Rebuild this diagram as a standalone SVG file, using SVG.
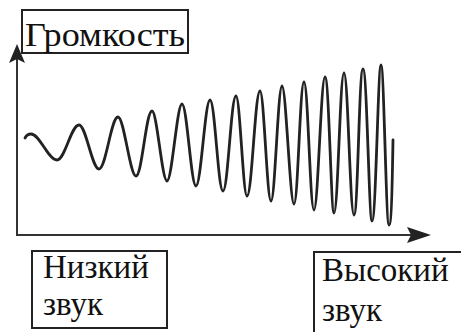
<svg xmlns="http://www.w3.org/2000/svg" width="461" height="332" viewBox="0 0 461 332">
<style>
.lbl{font-family:"Liberation Serif","Times New Roman","DejaVu Serif",serif;font-size:33px;fill:#111}
.box{fill:#fff;stroke:#222;stroke-width:2}
.axis{stroke:#333;stroke-width:2;fill:none}
.wave{stroke:#222;stroke-width:2.8;fill:none;stroke-linejoin:round;stroke-linecap:round}
</style>
<rect width="461" height="332" fill="#fff"/>
<g id="connectors">
<line class="axis" x1="17" y1="236" x2="17" y2="58"/>
<path d="M17,44 L25,63 L17,59 L9,63 Z" fill="#222"/>
<line class="axis" x1="17" y1="235" x2="414" y2="235"/>
<path d="M431,235 L407,227 L411,235 L407,243 Z" fill="#222"/>
</g>
<g id="wave">
<path class="wave" d="M25,138 C27,134 29,134 31,134
C40,134 48,160 57,160
C65,160 71,125 79,125
C86,125 92,169 99,169
C106,169 111,117 118,117
C124,117 130,176 136,176
C142,176 146,111 152,111
C157,111 162,181 167,181
C172,181 177,104 182,104
C187,104 191,186 196,186
C201,186 205,100 210,100
C215,100 218,191 223,191
C228,191 231,96 236,96
C240,96 243,196 247,196
C252,196 255,91 260,91
C264,91 267,201 271,201
C275,201 278,86 282,86
C286,86 290,204 294,204
C298,204 300,82 304,82
C308,82 310,210 314,210
C318,210 321,77 325,77
C329,77 331,213 334,213
C338,213 340,73 344,73
C348,73 350,215 354,215
C358,215 359,69 363,69
C367,69 369,221 372,221
C376,221 378,65 381,65
C384,65 386,225 389,225
C391,225 392,200 393,140"/>
</g>
<g id="node-volume">
<rect class="box" x="22" y="10" width="166" height="43"/>
<text class="lbl" x="25" y="46" textLength="160" lengthAdjust="spacingAndGlyphs">Громкость</text>
</g>
<g id="node-low">
<rect class="box" x="32" y="251" width="135" height="77"/>
<text class="lbl" x="43" y="278">Низкий</text>
<text class="lbl" x="43" y="315">звук</text>
</g>
<g id="node-high">
<rect class="box" x="314" y="252" width="160" height="90"/>
<text class="lbl" x="322" y="281">Высокий</text>
<text class="lbl" x="322" y="321">звук</text>
</g>
</svg>
